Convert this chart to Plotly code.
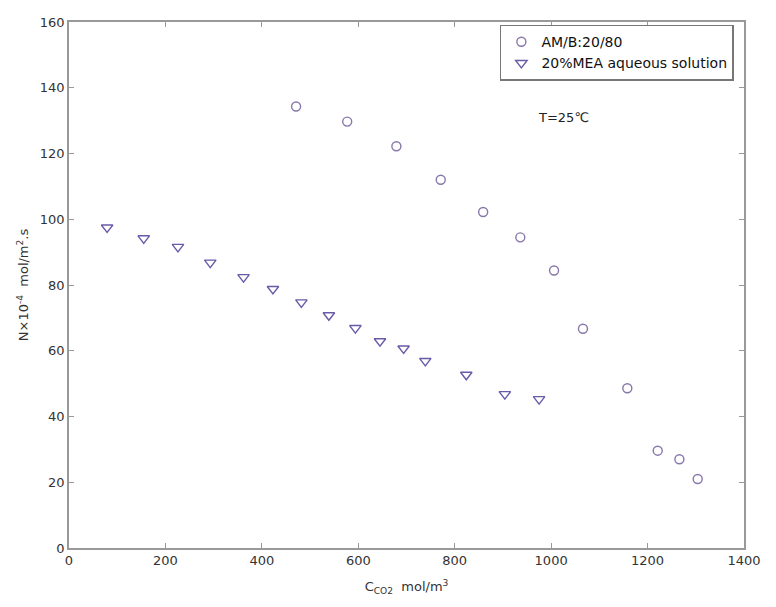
import plotly.graph_objects as go

# AM/B 20/80 series
amb_x = [471, 577, 679, 771, 859, 936, 1006, 1066, 1158, 1221, 1266, 1304]
amb_y = [134.3, 129.7, 122.2, 112.0, 102.2, 94.5, 84.4, 66.7, 48.6, 29.6, 27.0, 21.0]

# 20% MEA aqueous solution series
mea_x = [79, 155, 226, 293, 362, 423, 482, 539, 594, 645, 694, 739, 824, 904, 975]
mea_y = [97.5, 94.2, 91.6, 86.8, 82.4, 78.8, 74.7, 70.8, 66.9, 62.9, 60.7, 56.9, 52.7, 46.8, 45.3]

x_ticks = [0, 200, 400, 600, 800, 1000, 1200, 1400]
y_ticks = [0, 20, 40, 60, 80, 100, 120, 140, 160]

FONT = 'DejaVu Sans, Arial'

fig = go.Figure()

fig.add_trace(go.Scatter(
    x=amb_x, y=amb_y, mode='markers', name='AM/B:20/80',
    marker=dict(symbol='circle-open', size=9, color='#8877aa', line=dict(width=1.4))
))
fig.add_trace(go.Scatter(
    x=mea_x, y=mea_y, mode='markers', name='20%MEA aqueous solution',
    marker=dict(symbol='triangle-down-open', size=10, color='#6a5aa8', line=dict(width=1.4))
))

fig.add_annotation(x=1026, y=131, text='T=25℃', showarrow=False,
                   font=dict(size=13, color='#222222', family=FONT))

axis_style = dict(
    showline=True, linecolor='#999999', linewidth=1.5, mirror='ticks',
    ticks='inside', ticklen=5, tickcolor='#999999',
    showgrid=False, zeroline=False, ticklabeloverflow='allow',
    tickfont=dict(size=13, color='#333333', family=FONT),
)

fig.update_xaxes(range=[0, 1400], tickvals=x_ticks,
                 title=dict(text='C<sub>CO2</sub>  mol/m<sup>3</sup>', standoff=15,
                            font=dict(size=13, color='#333333', family=FONT)),
                 **axis_style)
fig.update_yaxes(range=[0, 160], tickvals=y_ticks,
                 title=dict(text='N×10<sup>-4</sup>  mol/m<sup>2</sup>.s', standoff=8,
                            font=dict(size=13, color='#333333', family=FONT)),
                 **axis_style)

# page body keeps its 8px margin, so the figure is sized to fit inside it
fig.update_layout(
    width=760, height=591,
    margin=dict(l=61, r=18, t=7, b=44),
    paper_bgcolor='white', plot_bgcolor='white',
    font=dict(family=FONT, color='#222222'),
    legend=dict(x=0.985, y=0.995, xanchor='right', yanchor='top',
                bordercolor='#777777', borderwidth=1.5, bgcolor='white',
                font=dict(size=14, color='#111111', family=FONT), tracegroupgap=0,
                itemwidth=30),
    showlegend=True,
)

fig.write_html("out.html", config={'displayModeBar': False})
